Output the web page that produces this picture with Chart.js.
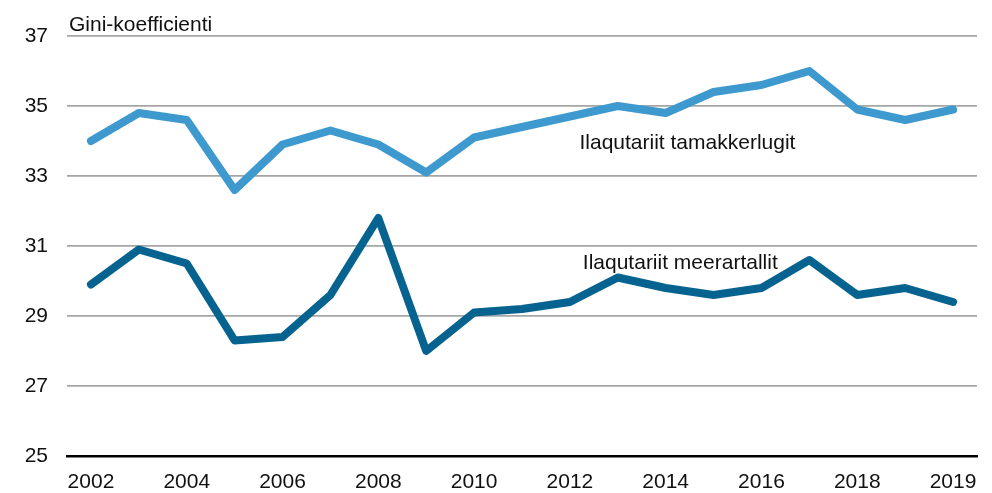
<!DOCTYPE html>
<html>
<head>
<meta charset="utf-8">
<script src="https://cdn.jsdelivr.net/npm/chart.js@4"></script>
<style>
  html, body { margin: 0; padding: 0; background: #fff; }
  #wrap { width: 992px; height: 493px; }
</style>
</head>
<body>
<div id="wrap"><canvas id="giniChart"></canvas></div>
<script>
// x categories (only every second one is labelled in the original)
const yearLabels = ['2002', '', '2004', '', '2006', '', '2008', '', '2010', '',
  '2012', '', '2014', '', '2016', '', '2018', '', '2019'];

const allFamilies = [34.0, 34.8, 34.6, 32.6, 33.9, 34.3, 33.9, 33.1, 34.1, 34.4,
  34.7, 35.0, 34.8, 35.4, 35.6, 36.0, 34.9, 34.6, 34.9];
const familiesWithChildren = [29.9, 30.9, 30.5, 28.3, 28.4, 29.6, 31.8, 28.0, 29.1, 29.2,
  29.4, 30.1, 29.8, 29.6, 29.8, 30.6, 29.6, 29.8, 29.4];

const yTicks = [25, 27, 29, 31, 33, 35, 37];

const seriesNames = ['Ilaqutariit tamakkerlugit', 'Ilaqutariit meerartallit'];
// where the in-chart labels sit: [category index, value]
const labelSpots = [[10.2, 33.95], [10.27, 30.5]];

const fontFamily = '"Liberation Sans", Arial, sans-serif';

let annotate = {
  id: 'annotate',
  afterDraw(chart) {
    const ctx = chart.ctx;
    const x = chart.scales.x, y = chart.scales.y;
    ctx.save();
    ctx.fillStyle = '#111';
    ctx.font = '21px ' + fontFamily;
    ctx.textBaseline = 'alphabetic';
    ctx.textAlign = 'left';
    ctx.fillText('Gini-koefficienti', chart.chartArea.left + 2, chart.chartArea.top - 5);
    ctx.textBaseline = 'middle';
    seriesNames.forEach((name, i) => {
      const px = x.getPixelForValue(labelSpots[i][0]);
      const py = y.getPixelForValue(labelSpots[i][1]);
      ctx.fillText(name, px, py);
    });
    ctx.restore();
  }
};

let giniChart = new Chart(document.getElementById('giniChart'), {
  type: 'line',
  data: {
    labels: yearLabels,
    datasets: [{
      label: seriesNames[0],
      data: allFamilies,
      borderColor: '#3d99ce',
      backgroundColor: '#3d99ce',
      borderWidth: 8,
      pointRadius: 0,
      tension: 0,
      borderCapStyle: 'round',
      borderJoinStyle: 'round'
    }, {
      label: seriesNames[1],
      data: familiesWithChildren,
      borderColor: '#06638f',
      backgroundColor: '#06638f',
      borderWidth: 8,
      pointRadius: 0,
      tension: 0,
      borderCapStyle: 'round',
      borderJoinStyle: 'round'
    }]
  },
  options: {
    responsive: true,
    maintainAspectRatio: false,
    animation: false,
    layout: { padding: { top: 36, right: 15, bottom: 0, left: 0 } },
    plugins: {
      legend: { display: false },
      tooltip: { enabled: false }
    },
    scales: {
      x: {
        offset: true,
        grid: { display: false, drawTicks: false },
        border: { display: true, color: '#000', width: 2.5 },
        ticks: {
          autoSkip: false,
          maxRotation: 0,
          padding: 14,
          color: '#111',
          font: { family: fontFamily, size: 21 }
        },
        afterFit(scale) { scale.height = 37; }
      },
      y: {
        min: 25,
        max: 37,
        afterBuildTicks(scale) { scale.ticks = yTicks.map(v => ({ value: v })); },
        grid: { color: '#a6a6a6', lineWidth: 1.8, drawTicks: false },
        border: { display: false },
        ticks: {
          padding: 19,
          color: '#111',
          font: { family: fontFamily, size: 21 }
        },
        afterFit(scale) { scale.width = 67; }
      }
    }
  },
  plugins: [annotate]
});
</script>
</body>
</html>
